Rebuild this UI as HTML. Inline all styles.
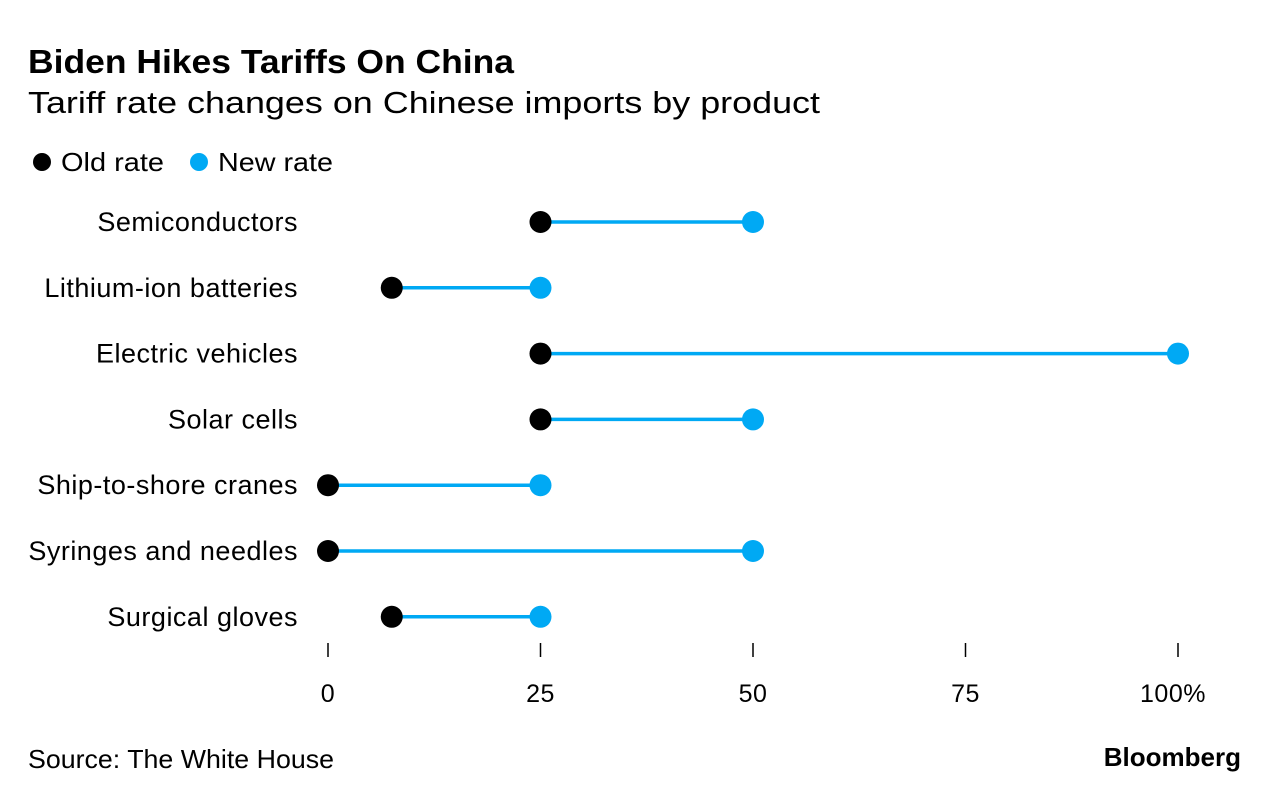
<!DOCTYPE html>
<html><head><meta charset="utf-8"><style>
body{margin:0;background:#fff;width:1280px;height:800px;overflow:hidden;font-family:"Liberation Sans",sans-serif;color:#000}
</style></head><body>
<svg width="1280" height="800" style="position:absolute;left:0;top:0">
<text x="28" y="73" font-size="33" font-weight="bold" textLength="486" lengthAdjust="spacingAndGlyphs">Biden Hikes Tariffs On China</text>
<text x="28" y="113" font-size="31" textLength="792" lengthAdjust="spacingAndGlyphs">Tariff rate changes on Chinese imports by product</text>
<g>
<circle cx="42" cy="162" r="9" fill="#000"/>
<text x="61" y="171" font-size="26" textLength="103" lengthAdjust="spacingAndGlyphs">Old rate</text>
<circle cx="199" cy="162" r="9" fill="#00a9f4"/>
<text x="218" y="171" font-size="26" textLength="115" lengthAdjust="spacingAndGlyphs">New rate</text>
</g>
<g id="plot"></g>
<text x="28" y="768" font-size="26" textLength="306" lengthAdjust="spacingAndGlyphs">Source: The White House</text>
<text x="1241" y="766" font-size="26" font-weight="bold" text-anchor="end">Bloomberg</text>
</svg>
<script>
const categories=["Semiconductors","Lithium-ion batteries","Electric vehicles","Solar cells","Ship-to-shore cranes","Syringes and needles","Surgical gloves"];
const oldRates=[25,7.5,25,25,0,0,7.5];
const newRates=[50,25,100,50,25,50,25];
const ticks=[0,25,50,75,100];
const tickLabels=["0","25","50","75","100%"];
const NS="http://www.w3.org/2000/svg";
const g=document.getElementById('plot');
const x=v=>328+v*8.5;
const y=i=>222+i*65.8;
function mk(t,a){const e=document.createElementNS(NS,t);for(const k in a)e.setAttribute(k,a[k]);g.appendChild(e);return e;}
categories.forEach((c,i)=>{
 const l=mk('text',{x:298,y:y(i)+9,'font-size':27,'text-anchor':'end','letter-spacing':'0.5'});l.textContent=c;
 
 
 const ln=mk('line',{x1:x(oldRates[i]),x2:x(newRates[i]),y1:y(i),y2:y(i),stroke:'#00a9f4','stroke-width':3.5});
 
 
 const o=mk('circle',{cx:x(oldRates[i]),cy:y(i),r:11,fill:'#000'});
 
 
 const n=mk('circle',{cx:x(newRates[i]),cy:y(i),r:11,fill:'#00a9f4'});
 
 
});
ticks.forEach((t,i)=>{
 const tk=mk('line',{x1:x(t),x2:x(t),y1:643,y2:657,stroke:'#000','stroke-width':1.5});
 
 
 const tl=mk('text',{x:x(t)+(i==4?-5:0),y:702,'font-size':25,'text-anchor':'middle','letter-spacing':'0.5'});tl.textContent=tickLabels[i];
 
 
});
</script>
</body></html>
